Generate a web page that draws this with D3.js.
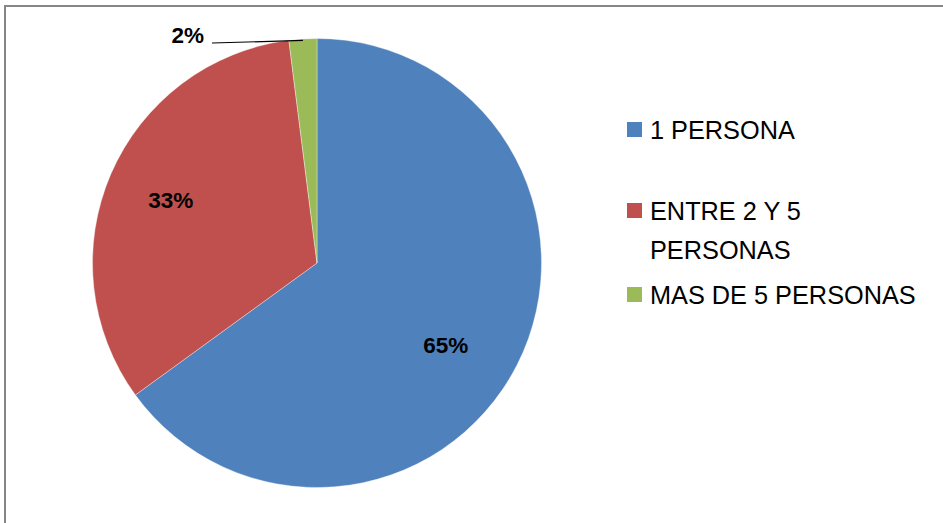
<!DOCTYPE html>
<html>
<head>
<meta charset="utf-8">
<script src="https://cdn.jsdelivr.net/npm/d3@7"></script>
<style>
  html, body { margin: 0; padding: 0; background: #fff; }
  svg { display: block; }
</style>
</head>
<body>
<svg id="chart" width="943" height="523"></svg>
<script>
// Household size distribution
const categories = ["1 PERSONA", "ENTRE 2 Y 5 PERSONAS", "MAS DE 5 PERSONAS"];
const legendLines = [["1 PERSONA"], ["ENTRE 2 Y 5", "PERSONAS"], ["MAS DE 5 PERSONAS"]];
const values = [65, 33, 2];
const valueLabels = ["65%", "33%", "2%"];
const colors = ["#4F81BD", "#C0504D", "#9BBB59"];

const svg = d3.select("#chart");

// frame around the chart area
svg.append("rect")
  .attr("x", 5).attr("y", 6)
  .attr("width", 1000).attr("height", 600)
  .attr("fill", "none")
  .attr("stroke", "#868686")
  .attr("stroke-width", 2);

const cx = 317, cy = 263, r = 224.5;

const pie = d3.pie().sort(null).value(d => d)(values);
const arc = d3.arc().innerRadius(0).outerRadius(r);

const g = svg.append("g").attr("transform", `translate(${cx},${cy})`);

g.selectAll("path.slice")
  .data(pie)
  .join("path")
  .attr("class", "slice")
  .attr("d", arc)
  .attr("fill", (d, i) => colors[i])
  .attr("stroke", "#ffffff")
  .attr("stroke-opacity", 0.6)
  .attr("stroke-width", 0.6);

// data labels: inside for large slices, outside with leader for the small one
const labelFont = "'Liberation Sans', Arial, sans-serif";
const labelFontSize = 22.5;
// placement of inside labels: fraction of radius and angular nudge (radians)
const insidePlacement = [{ k: 0.68, nudge: 0.095 }, { k: 0.71, nudge: 0 }];

pie.forEach((d, i) => {
  if (i < 2) {
    const p = insidePlacement[i];
    const a = (d.startAngle + d.endAngle) / 2 + p.nudge;
    const x = Math.sin(a) * r * p.k, y = -Math.cos(a) * r * p.k;
    g.append("text")
      .attr("x", x).attr("y", y)
      .attr("text-anchor", "middle")
      .attr("dy", "0.36em")
      .attr("font-family", labelFont)
      .attr("font-weight", "bold")
      .attr("font-size", labelFontSize)
      .attr("fill", "#000")
      .text(valueLabels[i]);
  } else {
    const mid = (d.startAngle + d.endAngle) / 2;
    const ex = Math.sin(mid) * r, ey = -Math.cos(mid) * r;
    const lx = 212 - cx, ly = 43 - cy;
    g.append("line")
      .attr("x1", ex).attr("y1", ey + 1.5)
      .attr("x2", lx).attr("y2", ly)
      .attr("stroke", "#000")
      .attr("stroke-width", 1.2);
    g.append("text")
      .attr("x", lx - 8).attr("y", ly)
      .attr("text-anchor", "end")
      .attr("font-family", labelFont)
      .attr("font-weight", "bold")
      .attr("font-size", labelFontSize)
      .attr("fill", "#000")
      .text(valueLabels[i]);
  }
});

// legend
const legendFont = "'Liberation Sans', Arial, sans-serif";
const legendBase = [139, 220, 304];
const lineGap = 39;
const legend = svg.append("g");
legendLines.forEach((lines, i) => {
  legend.append("rect")
    .attr("x", 627).attr("y", legendBase[i] - 17)
    .attr("width", 15).attr("height", 15)
    .attr("fill", colors[i]);
  const t = legend.append("text")
    .attr("font-family", legendFont)
    .attr("font-size", 25.3)
    .attr("fill", "#000");
  lines.forEach((s, j) => {
    t.append("tspan").attr("x", 650).attr("y", legendBase[i] + j * lineGap).text(s);
  });
});
</script>
</body>
</html>
